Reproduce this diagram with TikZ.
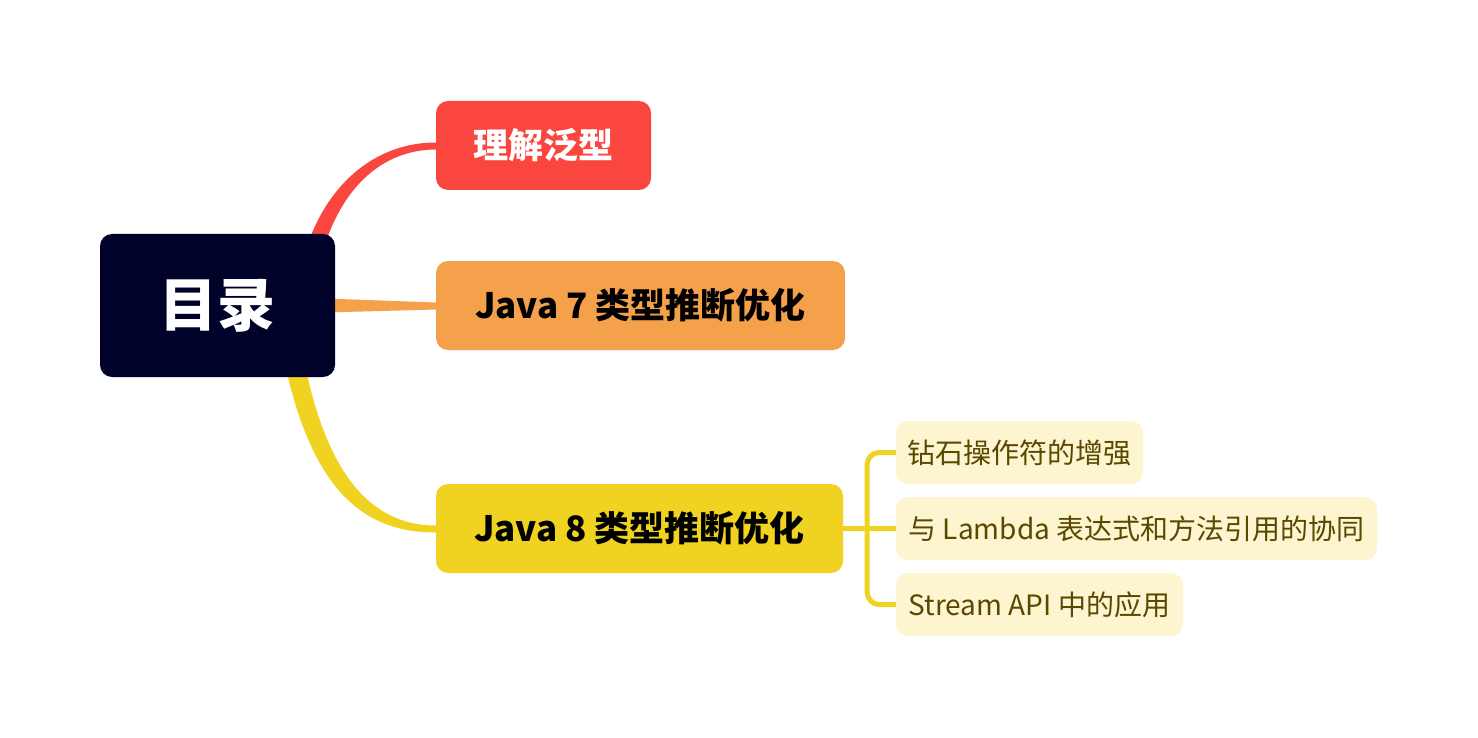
\documentclass[tikz,border=0pt]{standalone}
\usepackage{fontspec}
\setmainfont{Noto Sans CJK SC}
\usetikzlibrary{calc}
\pgfdeclarelayer{background}
\pgfsetlayers{background,main}
\definecolor{rootc}{HTML}{00022A}
\definecolor{redc}{HTML}{FA463E}
\definecolor{orangec}{HTML}{F5A04B}
\definecolor{yellowc}{HTML}{F0D321}
\definecolor{lightc}{HTML}{FCF5D0}
\definecolor{olivec}{HTML}{5A4800}
\tikzset{
  box/.style={rounded corners=12pt, inner sep=0pt, align=center},
  rootbox/.style={box, fill=rootc, text=white, font=\bfseries\fontsize{58}{62}\selectfont, minimum width=235pt, minimum height=143pt},
  mainbox/.style={box, font=\bfseries\fontsize{35}{40}\selectfont, minimum height=89pt},
  subbox/.style={box, fill=lightc, text=olivec, font=\fontsize{28}{32}\selectfont, minimum height=63pt},
  subline/.style={draw=yellowc, line width=5pt, rounded corners=12pt}
}
\begin{document}
\begin{tikzpicture}[x=1pt,y=-1pt]
\useasboundingbox (0,0) rectangle (1478,738);
\node[rootbox] (root) at (217.5,305.5) {目录};
\node[mainbox, minimum width=215pt, fill=redc, text=white] (n1) at (543.5,145.5) {理解泛型};
\node[mainbox, minimum width=409pt, fill=orangec, text=black] (n2) at (640.5,305.5) {Java 7 类型推断优化};
\node[mainbox, minimum width=407pt, fill=yellowc, text=black] (n3) at (639.5,528.5) {Java 8 类型推断优化};
\node[subbox, minimum width=247pt] (s1) at (1019.5,452.5) {钻石操作符的增强};
\node[subbox, minimum width=481pt] (s2) at (1136.5,528.5) {与 Lambda 表达式和方法引用的协同};
\node[subbox, minimum width=287pt] (s3) at (1039.5,604.5) {Stream API 中的应用};
\begin{pgfonlayer}{background}
\fill[redc] ($(root.north)+(84,30)$) .. controls ($(root.north)+(105,-50)$) and ($(n1.west)+(-60,-3)$) .. ($(n1.west)+(0,-3)$)
  -- ($(n1.west)+(0,4)$) .. controls ($(n1.west)+(-54,4)$) and ($(root.north)+(120,-45)$) .. ($(root.north)+(102,30)$) -- cycle;
\fill[orangec] ($(root.east)+(-10,-7)$) -- ($(n2.west)+(0,-3)$) -- ($(n2.west)+(0,4)$) -- ($(root.east)+(-10,7)$) -- cycle;
\fill[yellowc] ($(root.south)+(66,-20)$) .. controls ($(root.south)+(93,110)$) and ($(n3.west)+(-75,4)$) .. ($(n3.west)+(0,4)$)
  -- ($(n3.west)+(0,-3)$) .. controls ($(n3.west)+(-66,-3)$) and ($(root.south)+(108,95)$) .. ($(root.south)+(86,-20)$) -- cycle;
\coordinate (bx) at ($(n3.east)+(24,0)$);
\draw[subline] (s1.west) -- (s1.west -| bx) -- (s3.west -| bx) -- (s3.west);
\draw[draw=yellowc, line width=5pt] (n3.east) -- (s2.west);
\end{pgfonlayer}
\end{tikzpicture}
\end{document}
